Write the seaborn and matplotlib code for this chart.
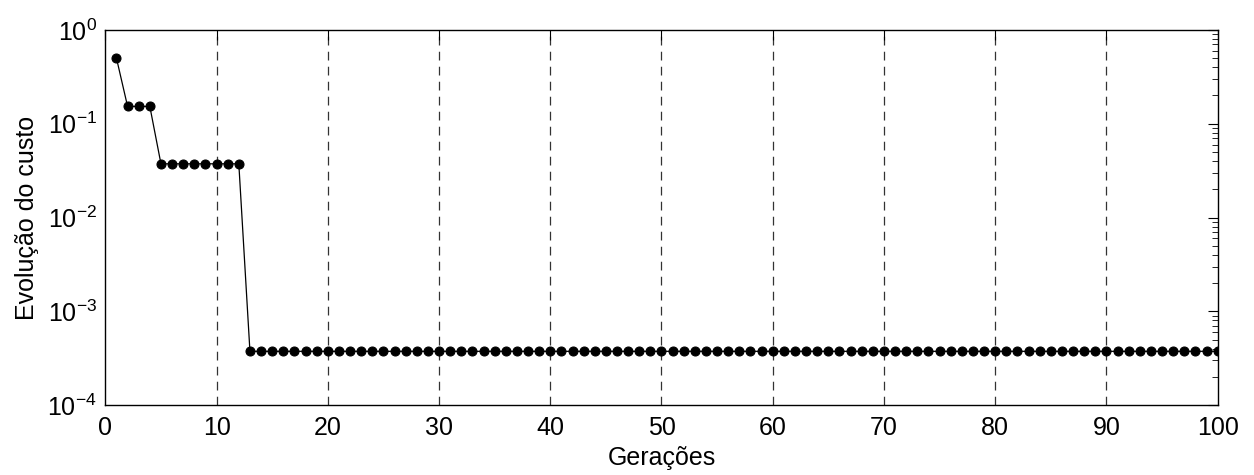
import numpy as np
import pandas as pd
import seaborn as sns
import matplotlib.pyplot as plt
from matplotlib.ticker import LogLocator, NullFormatter

# custo por geração
geracoes = list(range(1, 101))
custo = [0.50] + [0.153] * 3 + [0.0374] * 8 + [0.000375] * 88

df = pd.DataFrame({'geracao': geracoes, 'custo': custo})

sns.set_style('white')
plt.rcParams['font.family'] = ['Liberation Sans', 'DejaVu Sans']
plt.rcParams['mathtext.fontset'] = 'custom'
plt.rcParams['mathtext.rm'] = 'Liberation Sans'
plt.rcParams['text.color'] = 'black'
plt.rcParams['axes.labelcolor'] = 'black'
plt.rcParams['xtick.color'] = 'black'
plt.rcParams['ytick.color'] = 'black'

fig, ax = plt.subplots(1, figsize=(12.54, 4.75), dpi=100)
sns.lineplot(x='geracao', y='custo', data=df, color='black', linewidth=0.9,
             marker='o', markersize=6.5, markeredgecolor='black', ax=ax)
ax.set_yscale('log')
ax.set_xlim(0, 100)
ax.set_ylim(1e-4, 1e0)
ax.set_xticks(range(0, 101, 10))
ax.yaxis.set_major_locator(LogLocator(base=10, numticks=10))
ax.yaxis.set_minor_locator(LogLocator(base=10, subs=np.arange(2, 10), numticks=20))
ax.yaxis.set_minor_formatter(NullFormatter())
ax.tick_params(which='both', direction='in', top=True, right=True, labelsize=18,
               colors='black')
ax.tick_params(which='major', length=7)
ax.tick_params(which='minor', length=4)
ax.tick_params(axis='x', pad=8)
ax.tick_params(axis='y', pad=6)
for x in range(10, 100, 10):
    ax.axvline(x, color='#333333', linestyle=(0, (7, 5)), linewidth=0.9, zorder=0)
for s in ax.spines.values():
    s.set_color('black')
    s.set_linewidth(1.0)
ax.set_xlabel('Gerações', fontsize=18, labelpad=4, color='black')
ax.set_ylabel('Evolução do custo', fontsize=18, labelpad=6, color='black')
fig.subplots_adjust(left=0.084, right=0.971, top=0.937, bottom=0.147)
fig.savefig('out.png', dpi=100)
